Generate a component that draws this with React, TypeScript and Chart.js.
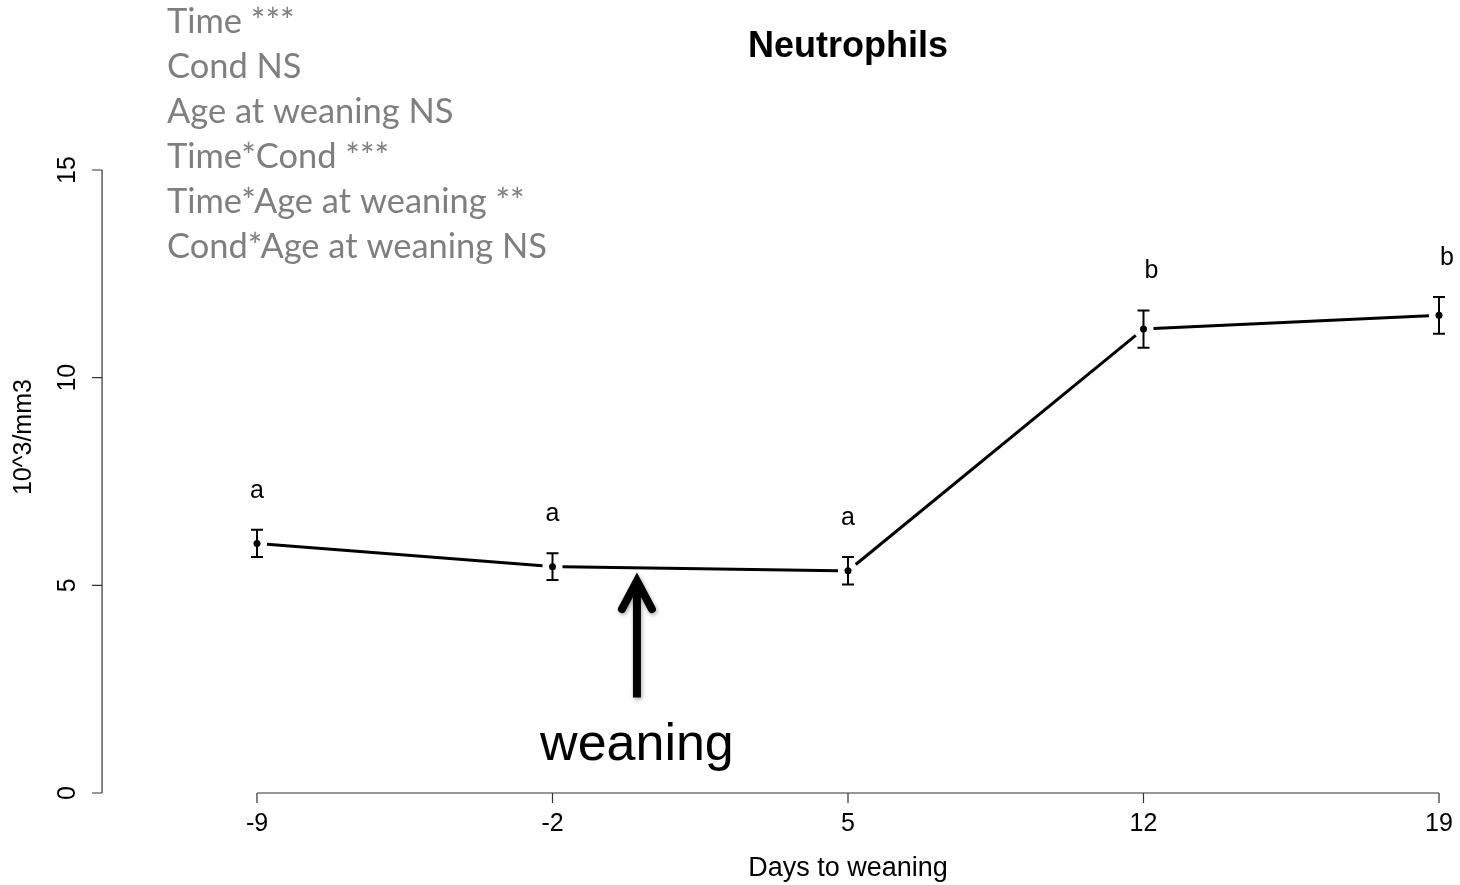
import React, { useEffect, useRef } from "react";
import { Chart, registerables } from "chart.js";

Chart.register(...registerables);

// ---- data ----
const days = [-9, -2, 5, 12, 19];
const means = [6.01, 5.45, 5.35, 11.17, 11.5];
const sems = [0.33, 0.32, 0.33, 0.45, 0.44];
const groupLetters = ["a", "a", "a", "b", "b"];
const xTicks = [-9, -2, 5, 12, 19];
const yTicks = [0, 5, 10, 15];
const statsLines = [
  "Time ***",
  "Cond NS",
  "Age at weaning NS",
  "Time*Cond ***",
  "Time*Age at weaning **",
  "Cond*Age at weaning NS",
];
const titleText = "Neutrophils";
const xTitle = "Days to weaning";
const yTitle = "10^3/mm3";
const weaningDay = 0;
const arrowFrom = 2.3;
const arrowTo = 5.2;
const weaningLabelY = 0.8;
const yAxisAtX = -12.67;
const yTitleAt = 8.57;

const SANS = "'Liberation Sans', Arial, sans-serif";

const drawPlugin = {
  id: "rstyle",
  afterDatasetsDraw(chart: any) {
    const ctx = chart.ctx as CanvasRenderingContext2D;
    const xs = chart.scales.x;
    const ys = chart.scales.y;
    const px = (v: number) => xs.getPixelForValue(v);
    const py = (v: number) => ys.getPixelForValue(v);
    ctx.save();

    // connecting segments with gaps (R type="b")
    ctx.strokeStyle = "#000";
    ctx.lineWidth = 3;
    ctx.lineCap = "butt";
    const gap = 10;
    for (let i = 0; i < days.length - 1; i++) {
      const x1 = px(days[i]), y1 = py(means[i]);
      const x2 = px(days[i + 1]), y2 = py(means[i + 1]);
      const dx = x2 - x1, dy = y2 - y1;
      const len = Math.hypot(dx, dy);
      const ux = dx / len, uy = dy / len;
      ctx.beginPath();
      ctx.moveTo(x1 + ux * gap, y1 + uy * gap);
      ctx.lineTo(x2 - ux * gap, y2 - uy * gap);
      ctx.stroke();
    }

    // error bars
    ctx.lineWidth = 2;
    for (let i = 0; i < days.length; i++) {
      const x = px(days[i]);
      const yt = py(means[i] + sems[i]);
      const yb = py(means[i] - sems[i]);
      ctx.beginPath();
      ctx.moveTo(x, yt);
      ctx.lineTo(x, yb);
      ctx.moveTo(x - 6, yt);
      ctx.lineTo(x + 6, yt);
      ctx.moveTo(x - 6, yb);
      ctx.lineTo(x + 6, yb);
      ctx.stroke();
      // group letters
      ctx.fillStyle = "#000";
      ctx.font = `25px ${SANS}`;
      ctx.textAlign = "center";
      ctx.textBaseline = "alphabetic";
      const nudge = groupLetters[i] === "b" ? 8 : 0;
      ctx.fillText(groupLetters[i], x + nudge, yt - 32);
    }

    // axes
    const yAxisPx = px(yAxisAtX);
    ctx.strokeStyle = "#333";
    ctx.lineWidth = 1.2;
    ctx.beginPath();
    ctx.moveTo(yAxisPx, py(yTicks[0]));
    ctx.lineTo(yAxisPx, py(yTicks[yTicks.length - 1]));
    for (const t of yTicks) {
      ctx.moveTo(yAxisPx, py(t));
      ctx.lineTo(yAxisPx - 10, py(t));
    }
    const xAxisPx = py(0);
    ctx.moveTo(px(xTicks[0]), xAxisPx);
    ctx.lineTo(px(xTicks[xTicks.length - 1]), xAxisPx);
    for (const t of xTicks) {
      ctx.moveTo(px(t), xAxisPx);
      ctx.lineTo(px(t), xAxisPx + 10);
    }
    ctx.stroke();

    ctx.fillStyle = "#000";
    ctx.font = `25px ${SANS}`;
    ctx.textAlign = "center";
    ctx.textBaseline = "middle";
    for (const t of xTicks) {
      ctx.fillText(String(t), px(t), xAxisPx + 31);
    }
    for (const t of yTicks) {
      ctx.save();
      ctx.translate(yAxisPx - 34, py(t));
      ctx.rotate(-Math.PI / 2);
      ctx.fillText(String(t), 0, 0);
      ctx.restore();
    }
    // axis titles
    const midX = (chart.chartArea.left + chart.chartArea.right) / 2;
    ctx.font = `27px ${SANS}`;
    ctx.fillText(xTitle, midX, xAxisPx + 76);
    ctx.save();
    ctx.font = `25px ${SANS}`;
    ctx.translate(yAxisPx - 78, py(yTitleAt));
    ctx.rotate(-Math.PI / 2);
    ctx.fillText(yTitle, 0, 0);
    ctx.restore();

    // title
    ctx.font = `bold 36px ${SANS}`;
    ctx.textBaseline = "alphabetic";
    ctx.fillText(titleText, midX, 57);

    // weaning arrow
    const ax = px(weaningDay);
    ctx.save();
    ctx.shadowColor = "rgba(0,0,0,0.35)";
    ctx.shadowBlur = 4;
    ctx.shadowOffsetX = 1;
    ctx.shadowOffsetY = 2;
    ctx.strokeStyle = "#000";
    ctx.lineWidth = 8;
    ctx.lineCap = "butt";
    ctx.beginPath();
    ctx.moveTo(ax, py(arrowFrom));
    ctx.lineTo(ax, py(arrowTo) + 3);
    ctx.stroke();
    ctx.lineCap = "round";
    ctx.lineJoin = "miter";
    ctx.beginPath();
    ctx.moveTo(ax - 15, py(arrowTo) + 32);
    ctx.lineTo(ax, py(arrowTo) + 4);
    ctx.lineTo(ax + 15, py(arrowTo) + 32);
    ctx.stroke();
    ctx.restore();
    ctx.fillStyle = "#000";
    ctx.font = `52px ${SANS}`;
    ctx.textAlign = "center";
    ctx.textBaseline = "alphabetic";
    ctx.fillText("weaning", ax, py(weaningLabelY));

    // stats text block
    ctx.fillStyle = "#7f7f7f";
    ctx.textAlign = "left";
    let size = 36;
    ctx.font = `${size}px Lato, 'Open Sans', sans-serif`;
    const w = ctx.measureText(statsLines[5]).width;
    size = (size * 380) / w;
    ctx.font = `${size}px Lato, 'Open Sans', sans-serif`;
    statsLines.forEach((s, i) => ctx.fillText(s, 167, 33 + 45 * i));

    ctx.restore();
  },
};

export default function App() {
  const ref = useRef<HTMLCanvasElement | null>(null);
  useEffect(() => {
    document.body.style.margin = "0";
    const canvas = ref.current!;
    const chart = new Chart(canvas, {
      type: "line",
      data: {
        datasets: [
          {
            data: days.map((d, i) => ({ x: d, y: means[i] })),
            showLine: false,
            pointRadius: 3.5,
            pointBackgroundColor: "#000",
            pointBorderColor: "#000",
            pointBorderWidth: 0,
            clip: false as any,
          },
        ],
      },
      options: {
        animation: false,
        responsive: false,
        layout: { padding: { left: 257, right: 21, top: 170, bottom: 92 } },
        scales: {
          x: { type: "linear", min: -9, max: 19, display: false },
          y: { type: "linear", min: 0, max: 15, display: false },
        },
        plugins: { legend: { display: false }, tooltip: { enabled: false } },
      },
      plugins: [drawPlugin],
    });
    return () => chart.destroy();
  }, []);
  return (
    <div style={{ width: 1460, height: 885, background: "#fff" }}>
      <canvas ref={ref} width={1460} height={885} style={{ display: "block" }} />
    </div>
  );
}
